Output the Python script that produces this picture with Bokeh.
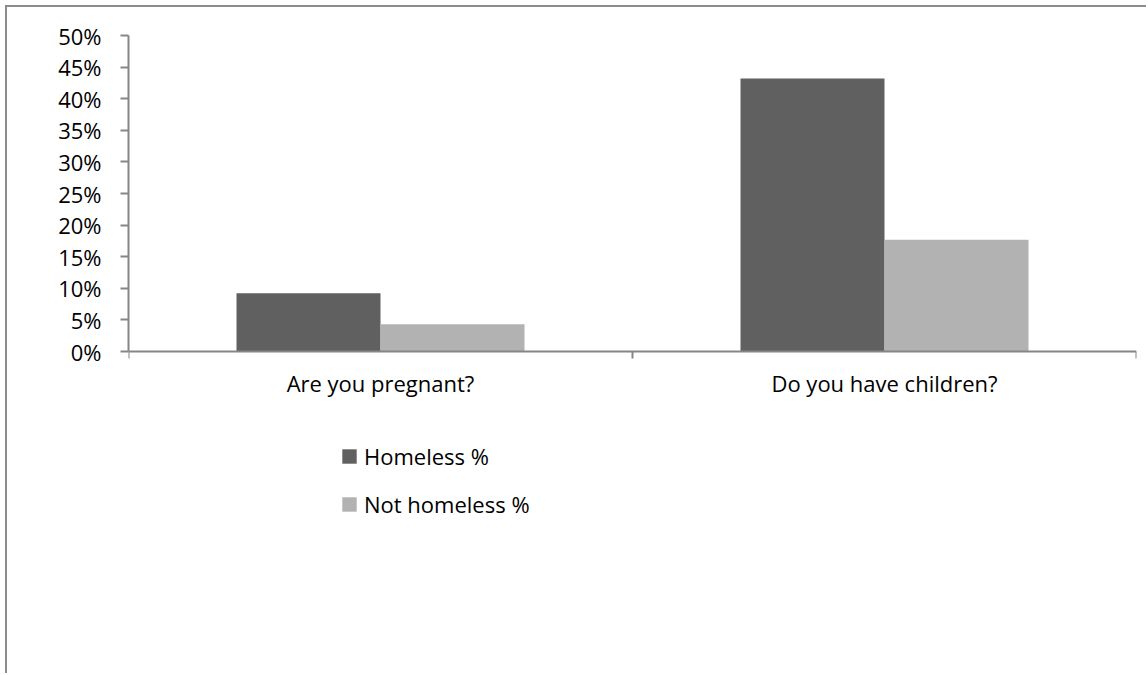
from bokeh.plotting import figure
from bokeh.models import (Range1d, FixedTicker, NumeralTickFormatter, Legend, LegendItem,
                          ColumnDataSource, LinearAxis)
from bokeh.embed import file_html
from bokeh.resources import INLINE

categories = ["Are you pregnant?", "Do you have children?"]
homeless = [0.092, 0.432]
not_homeless = [0.043, 0.177]
y_ticks = [0, 0.05, 0.10, 0.15, 0.20, 0.25, 0.30, 0.35, 0.40, 0.45, 0.50]

FONT = "Open Sans"
GRID = "#868686"
C_HOME = "#606060"
C_NOT = "#b2b2b2"

# frame: 0% at 351px, 50% at 35px; frame extends down to 675px to hold labels and legend
Y_BOTTOM = -(675 - 351) / 632.0

p = figure(width=1141, height=668, output_backend="svg", toolbar_location=None,
           x_range=Range1d(0, len(categories)), y_range=Range1d(Y_BOTTOM, 0.5),
           min_border_left=121, min_border_top=28, min_border_right=12,
           min_border_bottom=0, x_axis_type=None, y_axis_type=None)
p.outline_line_color = None
p.background_fill_color = "white"
p.border_fill_color = "white"

centers = [i + 0.5 for i in range(len(categories))]
bw = 144 / 504
src = ColumnDataSource(dict(xh=[c - bw / 2 for c in centers], xn=[c + bw / 2 for c in centers],
                            h=homeless, n=not_homeless))

# y axis
yax = LinearAxis(ticker=FixedTicker(ticks=y_ticks), formatter=NumeralTickFormatter(format="0%"),
                 bounds=(0, 0.5))
yax.axis_line_color = GRID
yax.axis_line_width = 2
yax.major_tick_line_color = GRID
yax.major_tick_line_width = 2
yax.major_tick_out = 8
yax.major_tick_in = 0
yax.minor_tick_line_color = None
yax.major_label_standoff = 19
yax.major_label_text_font = FONT
yax.major_label_text_font_size = "22px"
yax.major_label_text_color = "#000000"
p.add_layout(yax, "left")

# x axis at 0%
xax = LinearAxis(ticker=FixedTicker(ticks=centers, minor_ticks=[0, 1, 2]), fixed_location=0)
xax.major_label_overrides = {c: cat for c, cat in zip(centers, categories)}
xax.axis_line_color = GRID
xax.axis_line_width = 2
xax.major_tick_line_color = None
xax.major_tick_out = 0
xax.major_tick_in = 0
xax.minor_tick_line_color = GRID
xax.minor_tick_line_width = 2
xax.minor_tick_out = 7
xax.minor_tick_in = 0
xax.major_label_standoff = 9
xax.major_label_text_font = FONT
xax.major_label_text_font_size = "22px"
xax.major_label_text_color = "#000000"
p.add_layout(xax, "below")

p.ygrid.ticker = FixedTicker(ticks=y_ticks)
p.ygrid.grid_line_color = GRID
p.ygrid.grid_line_width = 2
p.xgrid.grid_line_color = None

r1 = p.vbar(x="xh", top="h", width=bw, bottom=0, source=src, fill_color=C_HOME, line_color=None)
r2 = p.vbar(x="xn", top="n", width=bw, bottom=0, source=src, fill_color=C_NOT, line_color=None)

legend = Legend(items=[LegendItem(label="Homeless %", renderers=[r1]),
                       LegendItem(label="Not homeless %", renderers=[r2])],
                location=(212, 156))
legend.border_line_color = None
legend.background_fill_alpha = 0
legend.padding = 0
legend.margin = 0
legend.glyph_width = 18
legend.glyph_height = 18
legend.label_standoff = 6
legend.spacing = 18
legend.label_text_font = FONT
legend.label_text_font_size = "22px"
legend.label_text_color = "#000000"
p.add_layout(legend, "center")

p.styles = {"margin-left": "5px", "margin-top": "5px",
            "border-left": "2px solid #8c8c8c", "border-top": "2px solid #8c8c8c"}

open("out.html", "w").write(file_html(p, INLINE))
